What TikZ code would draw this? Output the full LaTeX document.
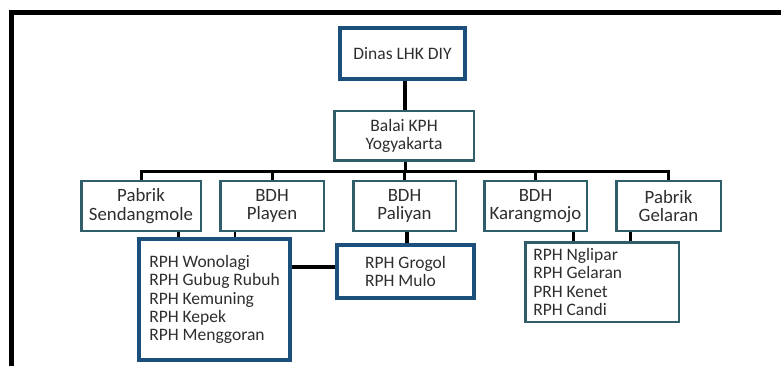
\documentclass[tikz,border=0pt]{standalone}
\usepackage{fontspec}
\setmainfont{Carlito}
\definecolor{navy}{HTML}{1D4F7C}
\definecolor{tealb}{HTML}{2F5E6A}
\definecolor{txt}{HTML}{2E2E2E}
\tikzset{
  base/.style={draw, rectangle, inner sep=0pt, text=txt,
    font=\fontsize{17.5}{18.3}\selectfont},
  navybox/.style={base, draw=navy, line width=4pt},
  tealbox/.style={base, draw=tealb, line width=2.5pt},
  unitbox/.style={tealbox, minimum height=49.5pt, align=center,
    font=\fontsize{18.8}{18.6}\selectfont},
  conn/.style={draw=black, line width=3pt},
  thickconn/.style={draw=black, line width=4pt},
  thinconn/.style={draw=black, line width=2pt},
  frame/.style={draw=black, line width=5pt}
}
\begin{document}
\begin{tikzpicture}[x=1pt,y=-1pt]
\useasboundingbox[fill=white] (0,0) rectangle (781,366);
\coordinate (fr1) at (790,13);
\coordinate (fr2) at (11,13);
\coordinate (fr3) at (11,375);
\draw[frame] (fr1) -- (fr2) -- (fr3);

\node[navybox, minimum width=125pt, minimum height=51pt] (dinas) at (402.5,53.5) {Dinas LHK DIY};
\node[tealbox, minimum width=139.5pt, minimum height=49.5pt, align=center] (balai) at (404,136) {Balai KPH\\Yogyakarta};

\node[unitbox, minimum width=119.5pt] (sendang) at (141,206) {Pabrik\\Sendangmole};
\node[unitbox, minimum width=103.5pt] (playen) at (272,206) {BDH\\Playen};
\node[unitbox, minimum width=102.5pt] (paliyan) at (404.5,206) {BDH\\Paliyan};
\node[unitbox, minimum width=102.5pt] (karang) at (535.5,206) {BDH\\Karangmojo};
\node[unitbox, minimum width=104.5pt] (gelaran) at (668.5,206) {Pabrik\\Gelaran};

\node[navybox, minimum width=151pt, minimum height=121pt, align=flush left] (wono) at (214.5,299.5)
  {RPH Wonolagi\\RPH Gubug Rubuh\\RPH Kemuning\\RPH Kepek\\RPH Menggoran};
\node[navybox, minimum width=137pt, minimum height=53pt, align=flush left] (grogol) at (405.5,271.5)
  {RPH Grogol\\RPH Mulo};
\node[tealbox, minimum width=153.5pt, minimum height=79.5pt, text width=137.5pt, inner xsep=8pt, align=flush left] (nglipar) at (602,282)
  {RPH Nglipar\\RPH Gelaran\\PRH Kenet\\RPH Candi};

\coordinate (bus) at (405,172);
\draw[thickconn] (dinas.south -| 405,0) -- (balai.north -| 405,0);
\draw[conn] (balai.south -| 405,0) -- (bus);
\draw[conn] (sendang.north) |- (bus) -| (gelaran.north);
\draw[conn] (playen.north) -- (playen.north |- bus);
\draw[conn] (paliyan.north) -- (paliyan.north |- bus);
\draw[conn] (karang.north) -- (karang.north |- bus);

\draw[conn] (sendang.south -| 178,0) -- (wono.north -| 178,0);
\draw[thinconn] (playen.south -| 235,0) -- (wono.north -| 235,0);
\draw[thickconn] (paliyan.south -| 407,0) -- (grogol.north -| 407,0);
\draw[thickconn] (wono.east |- 0,267) -- (grogol.west |- 0,267);
\draw[conn] (karang.south -| 573,0) -- (nglipar.north -| 573,0);
\draw[conn] (gelaran.south -| 630,0) -- (nglipar.north -| 630,0);
\end{tikzpicture}
\end{document}
